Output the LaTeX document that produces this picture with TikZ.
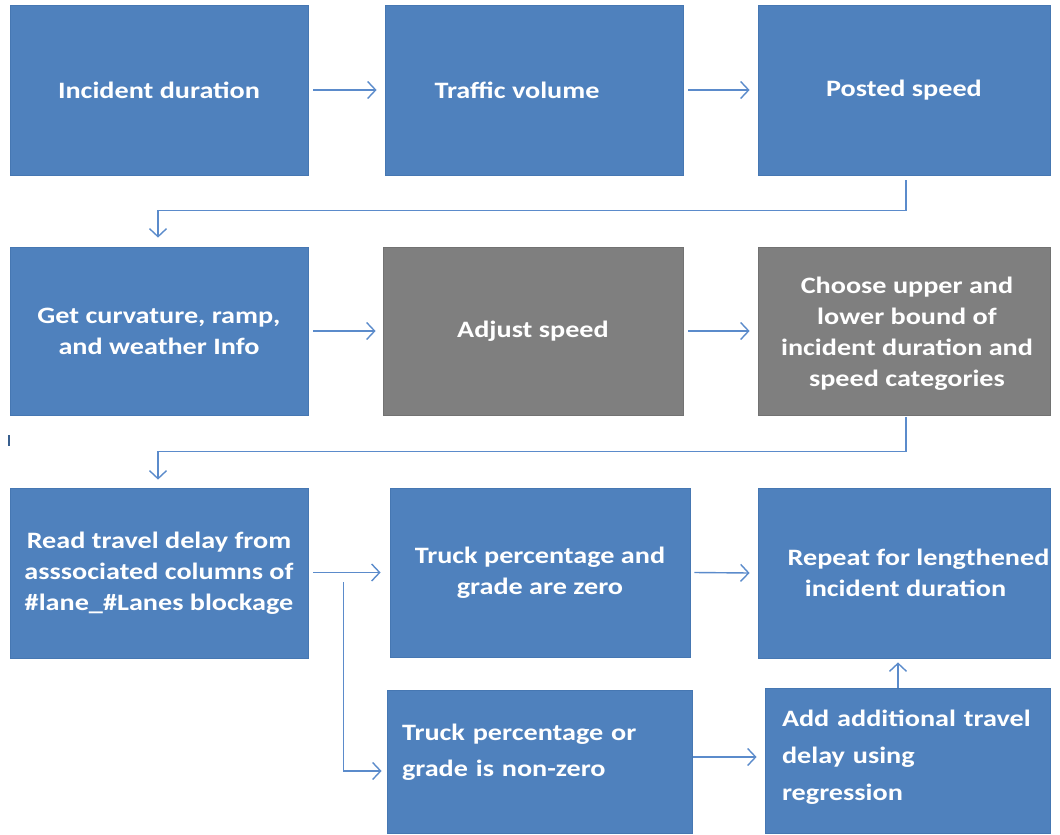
\documentclass[tikz,border=0pt]{standalone}
\usepackage{fontspec}
\setmainfont{Carlito}[FakeStretch=1.2]
\usetikzlibrary{arrows.meta,calc}
\definecolor{boxblue}{HTML}{4F81BD}
\definecolor{boxedge}{HTML}{4677B2}
\definecolor{boxgray}{HTML}{7F7F7F}
\definecolor{linkblue}{HTML}{5B8BCB}
\begin{document}
\begin{tikzpicture}[x=1pt,y=-1pt,
  boxtext/.style={text=white,font=\fontsize{23.5}{31}\selectfont\bfseries,
    align=center,inner sep=0pt},
  stepbox/.style={boxtext,draw=boxedge,line width=0.8pt,fill=boxblue},
  graybox/.style={stepbox,fill=boxgray,draw=boxgray!90!black},
  link/.style={draw=linkblue,line width=1.4pt,
    -{Straight Barb[length=8pt,width=17pt,line width=1.4pt]}}]
\useasboundingbox (0,0) rectangle (1060,835);

% first row
\node[stepbox,minimum width=298,minimum height=170] (b1) at (159,90) {Incident duration};
\node[stepbox,minimum width=298,minimum height=170] (b2) at (534,90) {Traffic volume\hspace*{34pt}};
\node[stepbox,minimum width=292,minimum height=170] (b3) at (904,90) {Posted speed};

% second row
\node[stepbox,minimum width=298,minimum height=168] (b4) at (159,331) {Get curvature, ramp,\\and weather Info};
\node[graybox,minimum width=300,minimum height=168] (b5) at (533,331) {Adjust speed};
\node[graybox,minimum width=292,minimum height=168] (b6) at (904,331) {};
\node[boxtext] (t6) at ([xshift=3pt,yshift=-3pt]b6.center)
  {Choose upper and\\lower bound of\\incident duration and\\speed categories};

% third row
\node[stepbox,minimum width=298,minimum height=170] (b7) at (159,573) {Read travel delay from\\asssociated columns of\\\#lane\_\#Lanes blockage};
\node[stepbox,minimum width=300,minimum height=169] (b8) at (540,572.5) {Truck percentage and\\grade are zero};
\node[stepbox,minimum width=292,minimum height=170] (b9) at (904,573) {\hspace*{29pt}Repeat for lengthened\\\hspace*{3pt}incident duration};

% fourth row
\node[stepbox,minimum width=305,minimum height=143] (b10) at (539.5,761.5) {};
\node[boxtext,font=\fontsize{23.5}{36}\selectfont\bfseries,align=left,text width=275]
  (t10) at ([yshift=9pt]b10.center) {Truck percentage or\\grade is non-zero};
\node[stepbox,minimum width=285,minimum height=145] (b11) at (907.5,760.5) {};
\node[boxtext,font=\fontsize{23.5}{37}\selectfont\bfseries,align=left,text width=251]
  (t11) at ([yshift=3pt]b11.center) {Add additional travel\\delay using\\regression};

% connectors along the rows
\draw[link] ([xshift=5pt]b1.east) -- ([xshift=-8pt]b2.west);
\draw[link] ([xshift=5pt]b2.east) -- ([xshift=-8pt]b3.west);
\draw[link] ([xshift=5pt]b4.east) -- ([xshift=-7pt]b5.west);
\draw[link] ([xshift=5pt]b5.east) -- ([xshift=-8pt]b6.west);
\draw[link] ([xshift=5pt,yshift=0.5pt]b7.east) -- ([xshift=-9pt]b8.west);
\draw[link] ([xshift=4pt]b8.east) -- ([xshift=-8pt]b9.west);
\draw[link] ([xshift=1pt,yshift=4.5pt]b10.east) -- ([xshift=-8pt,yshift=3.5pt]b11.west);
\draw[link] ([xshift=-9.5pt]b11.north) -- ([xshift=-6pt,yshift=-4pt]b9.south);

% wrap-around connectors between rows
\draw[link] ([xshift=2pt,yshift=-5pt]b3.south) -- ++(0,-30pt) -| ([xshift=-1pt,yshift=9pt]b4.north);
\draw[link] ([xshift=2pt,yshift=-2pt]b6.south) -- ++(0,-34pt) -| ([xshift=-1pt,yshift=8pt]b7.north);

% branch from the delay table to the non-zero case
\coordinate (split) at ($(b7.east)+(35pt,-9pt)$);
\draw[link] (split) |- ([xshift=-5pt,yshift=-9.5pt]b10.west);

% small tick at the left margin
\draw[boxedge!80!black,line width=1.2pt] (9,435) -- (9,446);
\end{tikzpicture}
\end{document}
